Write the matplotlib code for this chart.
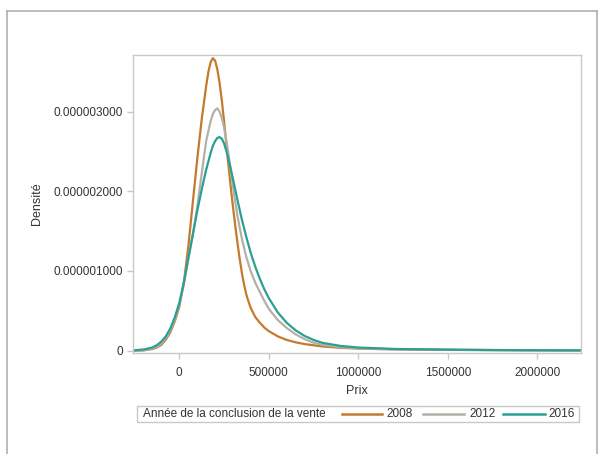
import matplotlib
matplotlib.use("Agg")
import matplotlib.pyplot as plt
from matplotlib.lines import Line2D
from matplotlib.patches import Rectangle

plt.rcParams['font.family'] = ['Liberation Sans', 'DejaVu Sans']

# ---- data (density in units of 1e-6) ----
years = ["2008", "2012", "2016"]

x_2008 = [-250000, -200000, -150000, -125000, -100000, -75000, -50000, -25000, 0, 25000,
          50000, 75000, 100000, 125000, 150000, 162500, 175000, 187500, 200000, 212500,
          225000, 237500, 250000, 262500, 275000, 287500, 300000, 312500, 325000, 337500,
          350000, 362500, 375000, 387500, 400000, 425000, 450000, 475000, 500000, 550000,
          600000, 650000, 700000, 800000, 900000, 1000000, 1200000, 1500000, 1800000,
          2000000, 2240000]
d_2008 = [0.0, 0.004, 0.02, 0.04, 0.075, 0.14, 0.23, 0.37, 0.55, 0.85,
          1.3, 1.85, 2.4, 2.9, 3.32, 3.5, 3.62, 3.67, 3.64, 3.53,
          3.36, 3.14, 2.88, 2.6, 2.32, 2.05, 1.8, 1.57, 1.35, 1.15,
          0.97, 0.82, 0.70, 0.61, 0.53, 0.42, 0.35, 0.29, 0.245, 0.18,
          0.135, 0.105, 0.083, 0.053, 0.036, 0.026, 0.016, 0.01, 0.006,
          0.004, 0.003]

x_2012 = [-250000, -200000, -150000, -125000, -100000, -75000, -50000, -25000, 0, 25000,
          50000, 75000, 100000, 125000, 150000, 175000, 187500, 200000, 212500, 225000,
          237500, 250000, 262500, 275000, 287500, 300000, 312500, 325000, 350000, 375000,
          400000, 425000, 450000, 475000, 500000, 550000, 600000, 650000, 700000, 750000,
          800000, 900000, 1000000, 1200000, 1500000, 1800000, 2000000, 2240000]
d_2012 = [0.0, 0.005, 0.025, 0.05, 0.09, 0.16, 0.25, 0.39, 0.58, 0.83,
          1.15, 1.45, 1.8, 2.22, 2.63, 2.88, 2.97, 3.02, 3.04, 3.0,
          2.92, 2.8, 2.64, 2.46, 2.26, 2.06, 1.87, 1.69, 1.4, 1.17,
          0.99, 0.85, 0.735, 0.625, 0.525, 0.385, 0.285, 0.205, 0.145, 0.1,
          0.072, 0.044, 0.03, 0.018, 0.011, 0.007, 0.005, 0.003]

x_2016 = [-250000, -200000, -150000, -125000, -100000, -75000, -50000, -25000, 0, 25000,
          50000, 75000, 100000, 125000, 150000, 175000, 187500, 200000, 212500, 225000,
          237500, 250000, 262500, 275000, 287500, 300000, 312500, 325000, 350000, 375000,
          400000, 425000, 450000, 475000, 500000, 550000, 600000, 650000, 700000, 750000,
          800000, 900000, 1000000, 1200000, 1500000, 1800000, 2000000, 2240000]
d_2016 = [0.005, 0.015, 0.04, 0.07, 0.115, 0.18, 0.28, 0.42, 0.6, 0.85,
          1.15, 1.45, 1.75, 2.02, 2.27, 2.48, 2.57, 2.63, 2.67, 2.68,
          2.66, 2.6, 2.51, 2.4, 2.28, 2.15, 2.02, 1.89, 1.64, 1.42,
          1.22, 1.05, 0.9, 0.77, 0.66, 0.48, 0.35, 0.255, 0.185, 0.135,
          0.098, 0.06, 0.04, 0.022, 0.013, 0.008, 0.006, 0.004]

xs = [x_2008, x_2012, x_2016]
ds = [d_2008, d_2012, d_2016]
colors = ["#C47A2E", "#B4B0A6", "#2A9F96"]

x_ticks = [0, 500000, 1000000, 1500000, 2000000]
y_ticks = [0, 1e-6, 2e-6, 3e-6]
y_tick_labels = ["0", "0.000001000", "0.000002000", "0.000003000"]
legend_title = "Année de la conclusion de la vente"

# ---- figure ----
W, H = 598, 454
fig = plt.figure(figsize=(W / 100, H / 100), dpi=100)

def fx(px):
    return px / W

def fy(py):
    return 1 - py / H

ax = fig.add_axes([fx(133), fy(353), fx(580.7) - fx(133), fy(55) - fy(353)])

for x, d, c in zip(xs, ds, colors):
    ax.plot(x, [v * 1e-6 for v in d], color=c, lw=1.6,
            solid_joinstyle='round', solid_capstyle='round')

ax.set_xlim(-258600, 2242000)
ax.set_ylim(-0.029e-6, 3.71e-6)
ax.set_xticks(x_ticks)
ax.set_xticklabels([str(t) for t in x_ticks])
ax.set_yticks(y_ticks)
ax.set_yticklabels(y_tick_labels)

frame_c = "#C8C8C8"
for s in ax.spines.values():
    s.set_color(frame_c)
    s.set_linewidth(1.0)
ax.tick_params(axis='both', colors=frame_c, labelcolor="#333333", labelsize=8.5,
               length=4, width=1.0, direction='out', pad=3)
ax.tick_params(axis='x', pad=6)

ax.set_xlabel("Prix", fontsize=9, color="#333333", labelpad=4.5)
ax.set_ylabel("Densité", fontsize=9, color="#333333", labelpad=8)

# legend box
fig.add_artist(Rectangle((fx(137), fy(421.7)), fx(579) - fx(137), fy(405.7) - fy(421.7),
                         transform=fig.transFigure, fill=False, edgecolor="#C8C8C8", lw=1.0))
ly = fy(413.7)
fig.text(fx(143), ly, legend_title, fontsize=8.5, color="#333333", va='center', ha='left')
seg = [(341.7, 382, 386), (423, 464, 469), (503, 545, 548)]
for (a, b, t), c, yr in zip(seg, colors, years):
    fig.add_artist(Line2D([fx(a), fx(b)], [ly, ly], transform=fig.transFigure, color=c, lw=1.8))
    fig.text(fx(t), ly, yr, fontsize=8.5, color="#333333", va='center', ha='left')

# outer border
bc = "#B0B0B0"
fig.add_artist(Line2D([fx(7), fx(7)], [fy(11), 0], transform=fig.transFigure, color=bc, lw=1.2))
fig.add_artist(Line2D([fx(7), fx(596.5)], [fy(11), fy(11)], transform=fig.transFigure, color=bc, lw=1.2))
fig.add_artist(Line2D([fx(596.5), fx(596.5)], [fy(11), 0], transform=fig.transFigure, color=bc, lw=1.2))

fig.savefig("out.png", dpi=100)
